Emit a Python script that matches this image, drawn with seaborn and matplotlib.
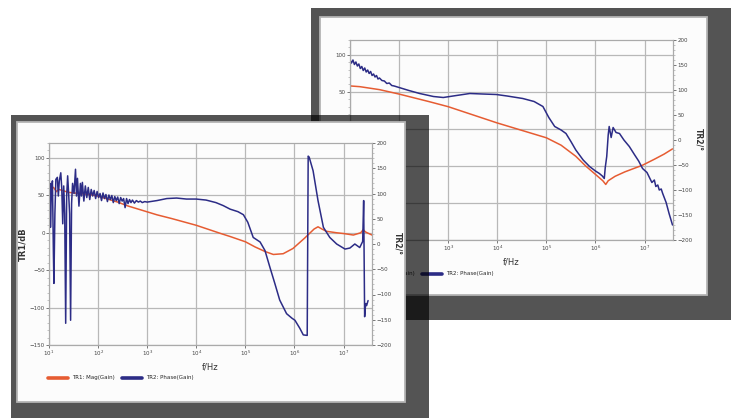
import matplotlib
matplotlib.use("Agg")
import matplotlib.pyplot as plt
from matplotlib.patches import Rectangle
from matplotlib.ticker import FixedLocator, AutoMinorLocator, NullLocator, LogFormatterSciNotation
import numpy as np
import seaborn as sns

# ---- data (log10 of frequency in Hz) ----
front_mag_logf = [1.00, 1.05, 1.10, 1.15, 1.20, 1.30, 1.40, 1.55, 1.70, 1.85, 2.00, 2.20, 2.40, 2.60,
                  2.80, 3.00, 3.20, 3.50, 4.00, 4.50, 4.69, 5.00, 5.20, 5.40, 5.57, 5.77, 5.97, 6.21,
                  6.40, 6.48, 6.56, 6.65, 6.86, 7.00, 7.20, 7.35, 7.40, 7.45, 7.58]
front_mag_db = [58, 62, 60, 55, 58, 56, 54, 53, 52, 51, 49, 45, 41, 36,
                32, 28, 24, 19, 10, -1, -5, -12, -19, -25, -29, -28, -21, -7,
                5, 8, 5, 2, 0, -1, -3, 0, 4, 1, -3]

front_ph_logf = [1.00, 1.02, 1.03, 1.05, 1.07, 1.09, 1.10, 1.12, 1.14, 1.17, 1.19, 1.21, 1.24, 1.26,
                 1.28, 1.30, 1.32, 1.34, 1.36, 1.38, 1.40, 1.42, 1.44, 1.46, 1.48, 1.51, 1.54, 1.56,
                 1.58, 1.61, 1.64, 1.66, 1.68, 1.71, 1.74, 1.77, 1.80, 1.83, 1.86, 1.89, 1.92, 1.95,
                 1.98, 2.01, 2.04, 2.07, 2.10, 2.13, 2.16, 2.19, 2.22, 2.25, 2.28, 2.31, 2.34, 2.37,
                 2.40, 2.43, 2.46, 2.49, 2.52, 2.55, 2.58, 2.61, 2.64, 2.67, 2.70, 2.74, 2.78, 2.82,
                 2.86, 2.90, 2.95, 3.00, 3.20, 3.40, 3.60, 3.80, 4.00, 4.20, 4.40, 4.55, 4.69, 4.85,
                 4.96, 5.05, 5.16, 5.30, 5.40, 5.50, 5.60, 5.70, 5.84, 5.95, 6.01, 6.11, 6.18, 6.26,
                 6.28, 6.30, 6.38, 6.48, 6.59, 6.72, 6.86, 7.03, 7.13, 7.23, 7.33, 7.39, 7.41, 7.43,
                 7.45, 7.47, 7.50]
front_ph_deg = [95, 120, 33, 110, 125, -20, -78, 60, 128, 132, 95, 125, 141, 110,
                40, 115, 60, -157, 95, 135, 100, 60, -151, 80, 120, 100, 148, 95,
                130, 75, 120, 95, 122, 85, 115, 92, 112, 88, 108, 95, 106, 90,
                104, 92, 100, 86, 101, 90, 98, 84, 97, 88, 96, 82, 94, 86,
                93, 80, 92, 85, 90, 72, 90, 80, 88, 82, 87, 81, 86, 83,
                85, 82, 84, 83, 86, 90, 91, 89, 89, 87, 82, 76, 69, 64,
                58, 43, 13, 4, -13, -46, -78, -111, -138, -147, -151, -167, -180, -181,
                174, 172, 145, 86, 33, 13, 0, -10, -8, 0, -7, 5, 86, -144,
                -118, -122, -112]

back_mag_logf = [1.00, 1.20, 1.40, 1.60, 1.80, 2.00, 2.30, 2.60, 3.00, 3.50, 4.00, 4.50, 5.00, 5.30,
                 5.60, 5.80, 6.01, 6.15, 6.21, 6.26, 6.40, 6.60, 6.80, 6.96, 7.20, 7.40, 7.57]
back_mag_db = [58, 57, 55, 53, 50, 47, 42, 37, 30, 19, 8, -2, -12, -22,
               -37, -50, -62, -70, -75, -70, -64, -58, -53, -49, -41, -34, -27]

back_ph_logf = [1.00, 1.03, 1.06, 1.09, 1.12, 1.15, 1.18, 1.21, 1.24, 1.27, 1.30, 1.33, 1.36, 1.39,
                1.42, 1.45, 1.48, 1.51, 1.54, 1.57, 1.60, 1.65, 1.70, 1.75, 1.80, 1.85, 1.90, 2.00,
                2.20, 2.42, 2.70, 2.90, 3.10, 3.44, 3.70, 3.98, 4.20, 4.52, 4.75, 4.93, 5.05, 5.17,
                5.30, 5.40, 5.50, 5.60, 5.75, 5.88, 6.00, 6.08, 6.14, 6.18, 6.20, 6.23, 6.26, 6.28,
                6.32, 6.36, 6.42, 6.49, 6.58, 6.69, 6.80, 6.88, 6.96, 7.05, 7.10, 7.15, 7.20, 7.23,
                7.27, 7.30, 7.34, 7.37, 7.44, 7.50, 7.57]
back_ph_deg = [160, 154, 160, 151, 156, 148, 152, 143, 147, 139, 144, 136, 140, 133,
               137, 129, 132, 126, 129, 122, 124, 119, 118, 113, 114, 109, 108, 105,
               99, 93, 87, 85, 88, 93, 92, 91, 88, 83, 77, 67, 45, 27,
               20, 13, -3, -20, -40, -53, -62, -67, -72, -77, -55, -33, 10, 27,
               5, 25, 15, 13, 0, -13, -30, -42, -57, -65, -75, -85, -80, -93,
               -90, -100, -98, -107, -125, -147, -170]

legend_labels = ["TR1: Mag(Gain)", "TR2: Phase(Gain)"]
x_decades = [1, 2, 3, 4, 5, 6, 7]
left_ticks = [-150, -100, -50, 0, 50, 100]
right_ticks = [-200, -150, -100, -50, 0, 50, 100, 150, 200]

RED = "#e65c32"
BLUE = "#2c2c86"
W, H = 735, 418

sns.set_theme(style="white")
plt.rcParams["font.family"] = ["DejaVu Sans"]

fig = plt.figure(figsize=(7.35, 4.18), dpi=100)
fig.patch.set_facecolor("white")


def overlay(z):
    a = fig.add_axes([0, 0, 1, 1], zorder=z)
    a.set_xlim(0, W)
    a.set_ylim(H, 0)
    a.axis("off")
    return a


def panel(a, frame, inner):
    a.add_patch(Rectangle(frame[:2], frame[2], frame[3], facecolor="black", alpha=0.67, lw=0))
    a.add_patch(Rectangle(inner[:2], inner[2], inner[3], facecolor="#fcfcfc",
                          edgecolor="#b4b4b4", lw=1.3))


def bode(rect, z, mag_logf, mag_db, ph_logf, ph_deg, leg_xy):
    l, t, r, b = rect
    ax = fig.add_axes([l / W, (H - b) / H, (r - l) / W, (b - t) / H], zorder=z)
    ax.patch.set_alpha(0)
    sns.lineplot(x=10 ** np.array(mag_logf), y=mag_db, ax=ax, color=RED, lw=1.1,
                 sort=False, estimator=None, legend=False)
    ax.set_xscale("log")
    ax.set_xlim(10 ** 1, 10 ** 7.58)
    ax.set_ylim(-150, 120)
    ax2 = ax.twinx()
    ax2.set_zorder(z + 0.1)
    sns.lineplot(x=10 ** np.array(ph_logf), y=ph_deg, ax=ax2, color=BLUE, lw=1.1,
                 sort=False, estimator=None, legend=False)
    ax2.set_ylim(-200, 200)
    ax2.set_xlim(10 ** 1, 10 ** 7.58)

    ax.xaxis.set_major_locator(FixedLocator([10.0 ** d for d in x_decades]))
    ax.xaxis.set_major_formatter(LogFormatterSciNotation())
    ax.xaxis.set_minor_locator(NullLocator())
    ax.yaxis.set_major_locator(FixedLocator(left_ticks))
    ax.yaxis.set_minor_locator(AutoMinorLocator(5))
    ax2.yaxis.set_major_locator(FixedLocator(right_ticks))
    ax2.yaxis.set_minor_locator(AutoMinorLocator(5))
    ax.grid(True, which="major", color="#b8b8b8", lw=0.9)
    for a in (ax, ax2):
        a.tick_params(which="major", labelsize=4, length=2, width=0.5, pad=1, colors="#444444")
        a.tick_params(which="minor", length=1.2, width=0.4, colors="#999999")
        for s in a.spines.values():
            s.set_color("#aaaaaa")
            s.set_linewidth(0.8)
    ax.tick_params(axis="y", which="both", left=True)
    ax.tick_params(axis="x", bottom=True)
    ax2.tick_params(axis="y", which="both", right=True)
    ax.set_xlabel("f/Hz", fontsize=6, labelpad=3, color="#333333")
    ax.set_ylabel("TR1/dB", fontsize=6, fontweight="bold", labelpad=2, color="#333333")
    ax2.set_ylabel("TR2/°", fontsize=5.5, fontweight="bold", labelpad=8, rotation=270,
                   color="#333333")
    handles = [ax.get_lines()[0], ax2.get_lines()[0]]
    leg = ax2.legend(handles, legend_labels, loc="center left", ncol=2, frameon=False,
                     bbox_to_anchor=(leg_xy[0] / W, (H - leg_xy[1]) / H),
                     bbox_transform=fig.transFigure, fontsize=4, handlelength=3.6,
                     handletextpad=0.7, columnspacing=1.4, borderpad=0, borderaxespad=0)
    for h in leg.get_lines():
        h.set_linewidth(2.6)
    return ax, ax2


# back (top-right) screenshot
panel(overlay(0), (311, 8, 420, 312), (320, 17, 387, 278))
bode((350, 40, 673, 240), 1, back_mag_logf, back_mag_db, back_ph_logf, back_ph_deg, (348, 274))

# front (bottom-left) screenshot
panel(overlay(2), (11, 115, 418, 320), (17, 122, 388, 280))
bode((49, 143, 372, 345), 3, front_mag_logf, front_mag_db, front_ph_logf, front_ph_deg, (48, 378))

fig.savefig("out.png", dpi=100)
